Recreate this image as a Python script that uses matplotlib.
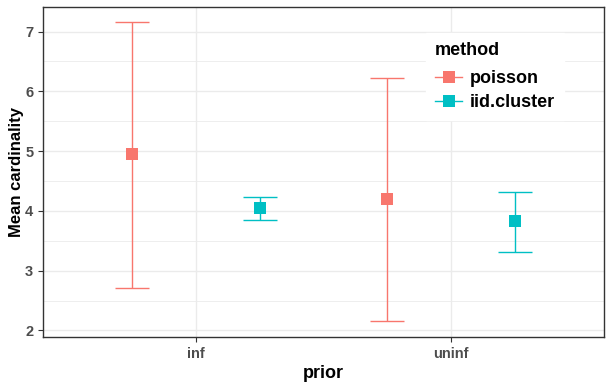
import matplotlib.pyplot as plt
from matplotlib.lines import Line2D
from matplotlib.ticker import MultipleLocator

plt.rcParams['font.family'] = ['Liberation Sans', 'DejaVu Sans']

# data
priors = ['inf', 'uninf']
methods = ['poisson', 'iid.cluster']
colors = {'poisson': '#F8766D', 'iid.cluster': '#00BFC4'}
mean_card = {'poisson': [4.95, 4.19], 'iid.cluster': [4.04, 3.83]}
lower = {'poisson': [2.71, 2.15], 'iid.cluster': [3.84, 3.32]}
upper = {'poisson': [7.16, 6.22], 'iid.cluster': [4.24, 4.32]}

fig = plt.figure(figsize=(6.12, 3.87), dpi=100)
ax = fig.add_axes([43 / 612, 1 - 337 / 387, 561 / 612, 330 / 387])

dodge = {'poisson': -0.25, 'iid.cluster': 0.25}
for m in methods:
    xs = [i + 1 + dodge[m] for i in range(len(priors))]
    yerr = [[mu - lo for mu, lo in zip(mean_card[m], lower[m])],
            [hi - mu for mu, hi in zip(mean_card[m], upper[m])]]
    ax.errorbar(xs, mean_card[m], yerr=yerr, fmt='none', ecolor=colors[m],
                elinewidth=1.0, capsize=12.5, capthick=1.0, zorder=3)
    ax.plot(xs, mean_card[m], 's', color=colors[m], markersize=8.5,
            markeredgewidth=0, zorder=4)

ax.set_xlim(0.4, 2.6)
ax.set_ylim(1.89, 7.41)
ax.set_xticks([1, 2])
ax.set_xticklabels(priors)
ax.yaxis.set_major_locator(MultipleLocator(1))
ax.yaxis.set_minor_locator(MultipleLocator(0.5))
ax.xaxis.set_minor_locator(MultipleLocator(10))

ax.grid(True, which='major', color='#EBEBEB', linewidth=1.0, zorder=0)
ax.grid(True, which='minor', axis='y', color='#EBEBEB', linewidth=0.6, zorder=0)
ax.set_axisbelow(True)
for s in ax.spines.values():
    s.set_color('#333333')
    s.set_linewidth(1.0)
ax.tick_params(which='major', length=3.5, width=0.8, color='#333333',
               labelcolor='#4D4D4D', labelsize=10.5)
ax.tick_params(which='minor', length=0)
for lab in ax.get_xticklabels() + ax.get_yticklabels():
    lab.set_fontweight('bold')

ax.set_xlabel('prior', fontsize=13, fontweight='bold', labelpad=3)
ax.set_ylabel('Mean cardinality', fontsize=12, fontweight='bold', labelpad=1)

handles = [Line2D([0], [0], color=colors[m], marker='s', markersize=8.5,
                  markeredgewidth=0, linewidth=1.0) for m in methods]
leg = ax.legend(handles, methods, title='method', loc='upper left',
                bbox_to_anchor=(374 / 561, 1 - 17 / 330), frameon=True,
                fancybox=False, edgecolor='white', framealpha=1,
                prop={'weight': 'bold', 'size': 13}, handlelength=1.5,
                handletextpad=0.4, labelspacing=0.4, borderpad=0.5)
leg.get_title().set_fontweight('bold')
leg.get_title().set_fontsize(13)
leg._legend_box.align = 'left'
leg._legend_box.sep = 8

fig.savefig('out.png', dpi=100)
